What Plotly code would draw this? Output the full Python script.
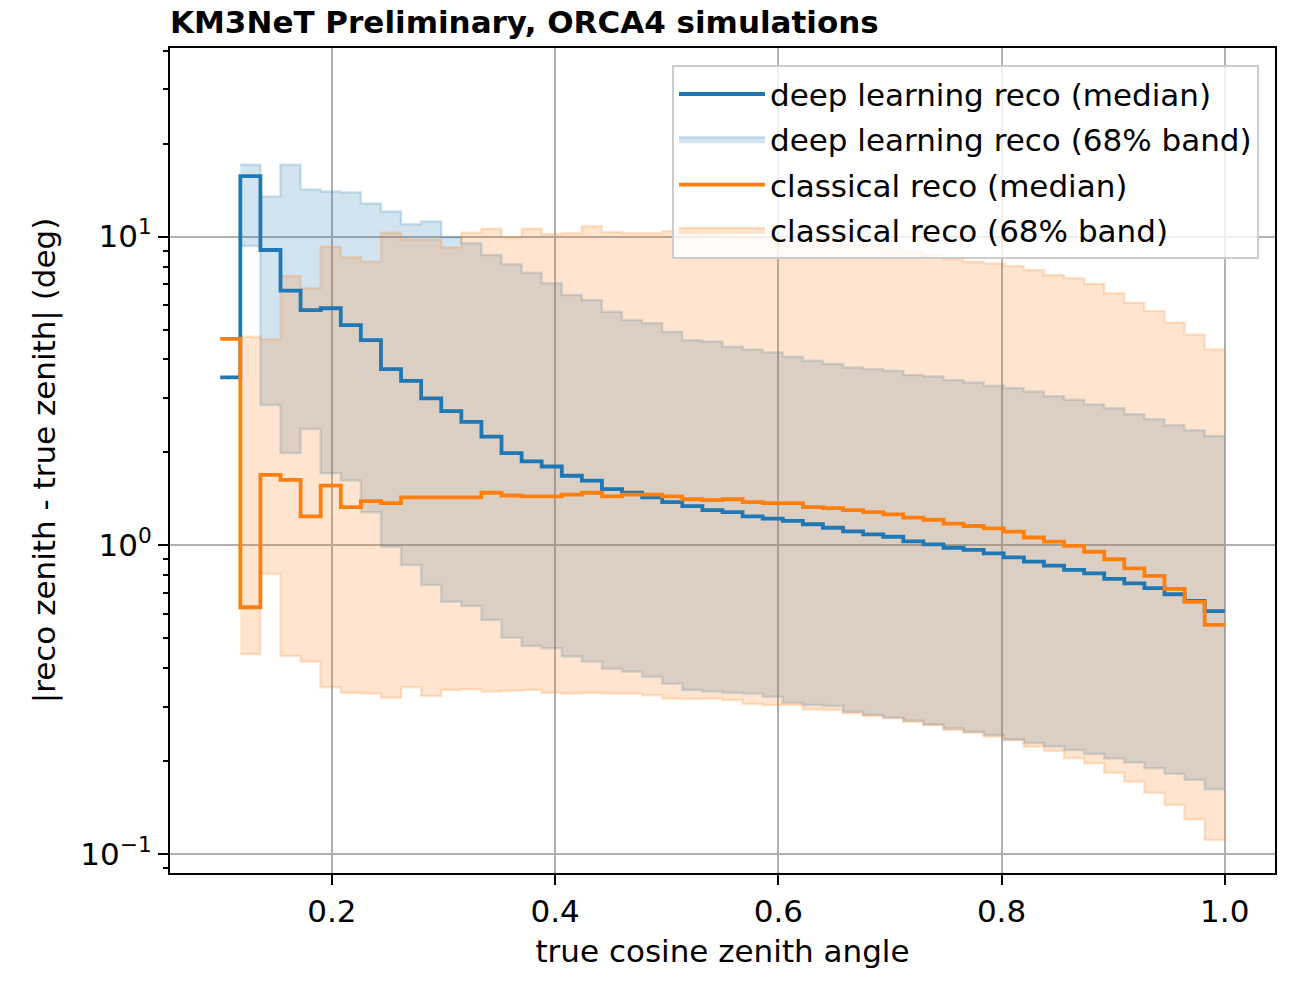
import plotly.graph_objects as go

# Binning in true cos(zenith): 50 bins of width 0.018 between 0.1 and 1.0
bin_lo = 0.1
bin_width = 0.018
n_bins = 50

# Median |reco zenith - true zenith| (deg) per bin
dl_median = [3.50, 15.7, 9.05, 6.68, 5.78, 5.86, 5.17, 4.62, 3.72, 3.41,
             2.99, 2.72, 2.51, 2.25, 1.99, 1.87, 1.80, 1.68, 1.62, 1.52,
             1.48, 1.43, 1.38, 1.34, 1.30, 1.28, 1.24, 1.22, 1.20, 1.17,
             1.14, 1.11, 1.085, 1.066, 1.03, 1.007, 0.982, 0.966, 0.942, 0.914,
             0.885, 0.859, 0.832, 0.811, 0.778, 0.753, 0.726, 0.694, 0.660, 0.612]

cl_median = [4.66, 0.63, 1.69, 1.63, 1.24, 1.56, 1.33, 1.39, 1.37, 1.43,
             1.43, 1.43, 1.43, 1.48, 1.45, 1.44, 1.44, 1.46, 1.48, 1.44,
             1.46, 1.46, 1.44, 1.41, 1.40, 1.41, 1.38, 1.37, 1.37, 1.33,
             1.32, 1.30, 1.28, 1.26, 1.23, 1.21, 1.175, 1.155, 1.135, 1.107,
             1.06, 1.027, 0.995, 0.953, 0.901, 0.842, 0.796, 0.722, 0.656, 0.552]

# 68% bands (16th / 84th percentiles), defined from the second bin onwards
dl_band_hi = [17.1, 13.5, 17.1, 14.2, 14.0, 13.9, 12.8, 12.05, 10.96,
              11.2, 9.95, 9.51, 8.72, 8.13, 7.64, 7.06, 6.47, 6.23, 5.71,
              5.37, 5.24, 4.92, 4.62, 4.57, 4.40, 4.31, 4.21, 4.08, 3.96,
              3.87, 3.77, 3.72, 3.68, 3.56, 3.52, 3.43, 3.37, 3.29, 3.23,
              3.15, 3.04, 2.96, 2.86, 2.78, 2.66, 2.56, 2.45, 2.36, 2.26]
dl_band_lo = [9.32, 2.85, 1.99, 2.38, 1.71, 1.62, 1.28, 0.99, 0.863,
              0.744, 0.656, 0.636, 0.573, 0.502, 0.472, 0.464, 0.436, 0.420, 0.398,
              0.390, 0.375, 0.356, 0.340, 0.336, 0.333, 0.331, 0.323, 0.309, 0.304,
              0.3015, 0.289, 0.282, 0.277, 0.270, 0.262, 0.255, 0.249, 0.243, 0.235,
              0.229, 0.223, 0.217, 0.211, 0.204, 0.198, 0.1895, 0.182, 0.174, 0.162]

cl_band_hi = [4.74, 4.65, 7.45, 6.80, 9.28, 8.57, 8.29, 10.3, 9.8,
              9.8, 9.23, 10.3, 10.6, 9.95, 10.6, 10.2, 10.25, 10.8, 10.35,
              10.25, 10.25, 10.4, 10.2, 10.1, 10.0, 9.9, 9.85, 9.8, 9.7,
              9.6, 9.4, 9.3, 9.15, 8.9, 8.7, 8.45, 8.29, 8.19, 8.03,
              7.79, 7.51, 7.33, 7.02, 6.55, 6.10, 5.74, 5.26, 4.82, 4.31]
cl_band_lo = [0.444, 0.807, 0.438, 0.420, 0.347, 0.333, 0.331, 0.321, 0.347,
              0.325, 0.340, 0.342, 0.336, 0.338, 0.340, 0.333, 0.331, 0.333, 0.331,
              0.331, 0.327, 0.319, 0.318, 0.319, 0.3155, 0.306, 0.304, 0.304, 0.294,
              0.2927, 0.2855, 0.280, 0.275, 0.268, 0.262, 0.252, 0.247, 0.240, 0.234,
              0.2227, 0.216, 0.2042, 0.1967, 0.1834, 0.1715, 0.158, 0.144, 0.1295, 0.111]

x_ticks = [0.2, 0.4, 0.6, 0.8, 1.0]
x_tick_labels = ["0.2", "0.4", "0.6", "0.8", "1.0"]
y_ticks = [0.1, 1, 10]
y_tick_labels = ["10<sup>\u22121</sup>", "10<sup>0</sup>", "10<sup>1</sup>"]

BLUE = "#1f77b4"
ORANGE = "#ff7f0e"
BLUE_A = "rgba(31,119,180,0.2)"
ORANGE_A = "rgba(255,127,14,0.2)"
FONT = "DejaVu Sans"
FS = 31

edges = [bin_lo + bin_width * i for i in range(n_bins + 1)]


def step_xy(x_edges, vals):
    """x at bin edges, y held across each bin (hv line shape)."""
    return list(x_edges), list(vals) + [vals[-1]]


fig = go.Figure()


def add_band(lo, hi, fill_col, name, group, rank):
    xe = edges[n_bins - len(lo):]
    x, ylo = step_xy(xe, lo)
    _, yhi = step_xy(xe, hi)
    fig.add_trace(go.Scatter(x=x, y=ylo, mode="lines", line=dict(shape="hv", color=fill_col, width=2.5),
                             showlegend=False, legendgroup=group, legendrank=rank, hoverinfo="skip"))
    fig.add_trace(go.Scatter(x=x, y=yhi, mode="lines", line=dict(shape="hv", color=fill_col, width=2.5),
                             fill="tonexty", fillcolor=fill_col, name=name, legendgroup=group,
                             legendrank=rank))


add_band(dl_band_lo, dl_band_hi, BLUE_A, "deep learning reco (68% band)", "g2", 2)
add_band(cl_band_lo, cl_band_hi, ORANGE_A, "classical reco (68% band)", "g4", 4)

for vals, col, name, group, rank in [
    (dl_median, BLUE, "deep learning reco (median)", "g1", 1),
    (cl_median, ORANGE, "classical reco (median)", "g3", 3),
]:
    x, y = step_xy(edges, vals)
    fig.add_trace(go.Scatter(x=x, y=y, mode="lines", line=dict(shape="hv", color=col, width=3.8),
                             name=name, legendgroup=group, legendrank=rank))

# minor log ticks 2..9 within the visible decades
minor_vals = [m * 10 ** d for d in (-2, -1, 0, 1) for m in range(2, 10)]

fig.update_layout(
    width=1306, height=985,
    margin=dict(l=170, r=31, t=48, b=112),
    paper_bgcolor="white", plot_bgcolor="white",
    font=dict(family=FONT, size=FS, color="black"),
    title=dict(text="<b>KM3NeT Preliminary, ORCA4 simulations</b>",
               font=dict(family=FONT, size=FS, color="black"),
               xref="paper", x=0, xanchor="left",
               yref="container", y=1 - 22 / 985, yanchor="middle"),
    legend=dict(x=0.9855, y=0.979, xanchor="right", yanchor="top",
                bgcolor="rgba(255,255,255,0.8)", bordercolor="#cccccc", borderwidth=2,
                font=dict(family=FONT, size=FS, color="black"),
                tracegroupgap=2, itemwidth=86, traceorder="grouped"),
    xaxis=dict(range=[0.055, 1.045], tickvals=x_ticks, ticktext=x_tick_labels,
               showgrid=True, gridcolor="#b0b0b0", gridwidth=2,
               showline=True, linecolor="black", linewidth=2, mirror=True,
               ticks="outside", ticklen=10, tickwidth=2, tickcolor="black",
               zeroline=False, automargin=False,
               title=dict(text="true cosine zenith angle", standoff=12,
                          font=dict(family=FONT, size=FS))),
    yaxis=dict(type="log", range=[-1.0616, 1.611], tickvals=y_ticks, ticktext=y_tick_labels,
               showgrid=True, gridcolor="#b0b0b0", gridwidth=2,
               showline=True, linecolor="black", linewidth=2, mirror=True,
               ticks="outside", ticklen=10, tickwidth=2, tickcolor="black",
               minor=dict(tickvals=minor_vals, ticks="outside", ticklen=5, tickwidth=1.5,
                          tickcolor="black", showgrid=False),
               zeroline=False, automargin=False,
               title=dict(text="|reco zenith - true zenith| (deg)", standoff=16,
                          font=dict(family=FONT, size=FS))),
)

fig.write_html("out.html")
